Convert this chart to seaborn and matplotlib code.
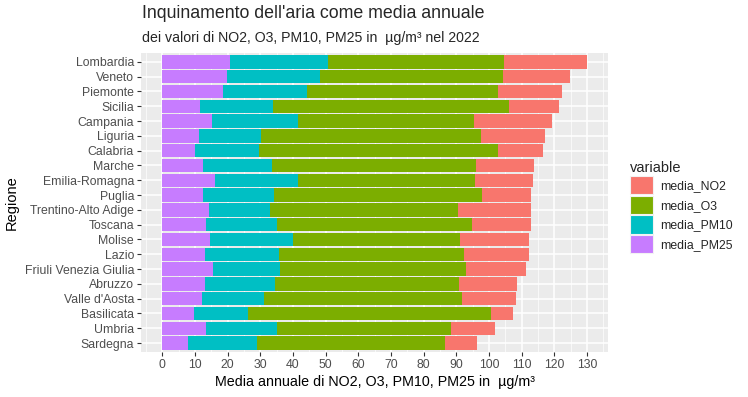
import numpy as np
import pandas as pd
import matplotlib
matplotlib.use("Agg")
import matplotlib.pyplot as plt
import seaborn as sns
from matplotlib.patches import Patch
from matplotlib.ticker import MultipleLocator

regions = [
    "Lombardia", "Veneto", "Piemonte", "Sicilia", "Campania", "Liguria",
    "Calabria", "Marche", "Emilia-Romagna", "Puglia", "Trentino-Alto Adige",
    "Toscana", "Molise", "Lazio", "Friuli Venezia Giulia", "Abruzzo",
    "Valle d'Aosta", "Basilicata", "Umbria", "Sardegna",
]
media_PM25 = [20.7, 19.7, 18.5, 11.5, 15.2, 11.2, 10.0, 12.4, 16.1, 12.4,
              14.3, 13.3, 14.6, 13.0, 15.5, 13.0, 12.1, 9.7, 13.3, 7.8]
media_PM10 = [29.9, 28.7, 25.7, 22.3, 26.4, 18.9, 19.5, 21.1, 25.5, 21.8,
              18.7, 21.7, 25.3, 22.6, 20.5, 21.4, 19.2, 16.5, 21.7, 21.1]
media_O3 = [54.0, 55.9, 58.5, 72.3, 53.8, 67.5, 73.2, 62.5, 54.1, 63.7,
            57.5, 59.8, 51.2, 56.8, 57.0, 56.4, 60.5, 74.4, 53.4, 57.6]
media_NO2 = [25.3, 20.4, 19.6, 15.3, 23.8, 19.5, 13.8, 17.7, 17.7, 14.9,
             22.3, 18.0, 21.1, 19.8, 18.3, 17.7, 16.4, 6.7, 13.4, 9.8]

df = pd.DataFrame({
    "Regione": regions,
    "media_PM25": media_PM25,
    "media_PM10": media_PM10,
    "media_O3": media_O3,
    "media_NO2": media_NO2,
})

variables = ["media_NO2", "media_O3", "media_PM10", "media_PM25"]
colors = {"media_NO2": "#F8766D", "media_O3": "#7CAE00",
          "media_PM10": "#00BFC4", "media_PM25": "#C77CFF"}

# cumulative ends, stacked from PM25 (left) to NO2 (right)
stack = ["media_PM25", "media_PM10", "media_O3", "media_NO2"]
cum = df[stack].cumsum(axis=1)

sns.set_theme(style="darkgrid")
plt.rcParams["font.family"] = ["Liberation Sans", "DejaVu Sans"]

fig, ax = plt.subplots(figsize=(7.48, 3.97), dpi=100)
fig.subplots_adjust(left=0.1885, right=0.813, top=0.8665, bottom=0.1134)
ax.set_facecolor("#EBEBEB")

for var in reversed(stack):
    sns.barplot(x=cum[var].values, y=df["Regione"], order=regions, orient="h",
                color=colors[var], saturation=1, width=0.9, linewidth=0,
                ax=ax, zorder=3)

n = len(regions)
ax.set_xlim(-6.5, 136.5)
ax.set_ylim(n - 0.4, -0.6)
ax.xaxis.set_major_locator(MultipleLocator(10))
ax.xaxis.set_minor_locator(MultipleLocator(5))
ax.grid(which="major", color="white", linewidth=1.1, zorder=0)
ax.grid(which="minor", axis="x", color="white", linewidth=0.5, zorder=0)
ax.set_axisbelow(True)
for s in ax.spines.values():
    s.set_visible(False)

ax.tick_params(axis="both", which="major", length=3, width=0.8, color="#333333",
               labelsize=8.8, labelcolor="#4D4D4D", pad=2, bottom=True, left=True)
ax.tick_params(axis="x", which="minor", length=0)

ax.set_xlabel("Media annuale di NO2, O3, PM10, PM25 in  µg/m³", fontsize=10.3,
              color="black", labelpad=3)
ax.set_ylabel("Regione", fontsize=10.5, color="black", labelpad=4)

fig.text(142 / 748, 1 - 14 / 397, "Inquinamento dell'aria come media annuale",
         fontsize=12.8, ha="left", va="center")
fig.text(142 / 748, 1 - 38 / 397, "dei valori di NO2, O3, PM10, PM25 in  µg/m³ nel 2022",
         fontsize=10.2, ha="left", va="center")

handles = [Patch(facecolor=colors[v], edgecolor="#F2F2F2", linewidth=0.8, label=v)
           for v in variables]
leg = fig.legend(handles=handles, title="variable", loc="center left",
                 bbox_to_anchor=(630 / 748, 1 - 207 / 397), frameon=False,
                 fontsize=8.8, title_fontsize=10.5, handlelength=1.9,
                 handleheight=1.9, handletextpad=0.55, labelspacing=0.12,
                 borderaxespad=0, borderpad=0)
leg._legend_box.align = "left"

fig.savefig("out.png", dpi=100)
